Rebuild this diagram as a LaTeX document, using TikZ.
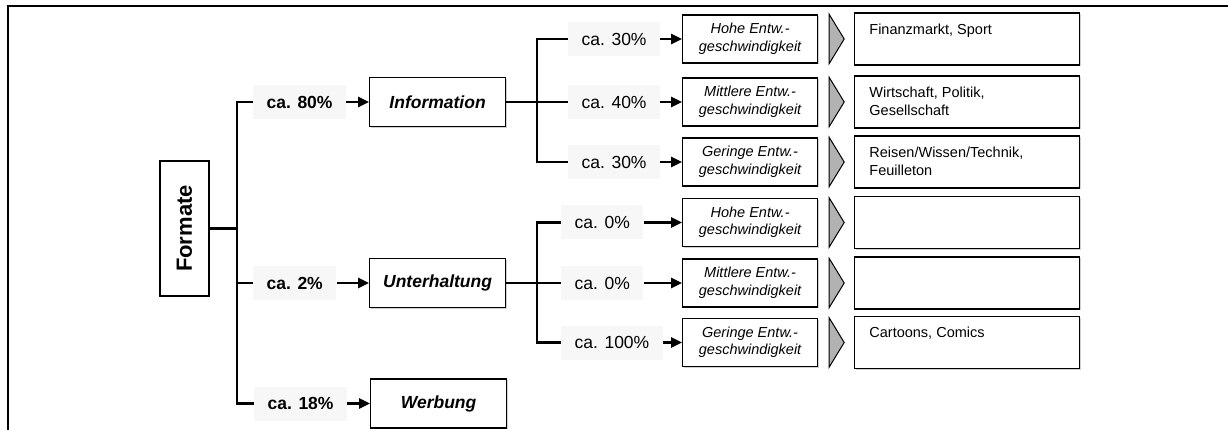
\documentclass[tikz,border=0pt]{standalone}
\usepackage{fontspec}
\setmainfont{Liberation Sans}
\usetikzlibrary{arrows.meta,positioning,shadows}

\begin{document}
\begin{tikzpicture}[x=1pt,y=-1pt,node distance=36pt,>={Triangle[length=11pt,width=10pt]}]
    \tikzset{box/.style={draw,line width=1.2pt,fill=white,
        drop shadow={shadow xshift=1.2pt,shadow yshift=-1.2pt,fill=black!35}},
      conn/.style={line width=2.5pt},
      pctbold/.style={fill=black!3,anchor=west,inner xsep=13.5pt,inner ysep=0pt,minimum height=34pt,
        font=\bfseries\fontsize{17.5}{20}\selectfont},
      pct/.style={pctbold,font=\fontsize{17.5}{20}\selectfont},
      format/.style={box,anchor=west,minimum width=136pt,minimum height=49pt,
        font=\bfseries\itshape\fontsize{17.5}{20}\selectfont},
      speed/.style={box,anchor=west,minimum width=135pt,minimum height=48pt,align=center,
        font=\itshape\fontsize{14.5}{17.5}\selectfont},
      topic/.style={box,minimum width=225pt,minimum height=52pt},
      topictext/.style={anchor=north west,inner sep=0pt,align=left,
        font=\fontsize{14.5}{18}\selectfont},
      chevron/.style={draw,line width=1pt,fill=black!30,line join=miter}}
    \useasboundingbox (0,0) rectangle (1228,430);
    \draw[line width=2.2pt] (1228,6) -- (8,6) -- (8,430);

    \node[box,minimum width=49pt,minimum height=135pt,
      font=\bfseries\fontsize{22}{24}\selectfont] (formate) at (184.5,228.5) {\rotatebox{90}{Formate}};
    \coordinate (fork) at (237,228.5);

    \node[pctbold] (p80) at (253,102) {ca. 80\%};
    \node[pctbold] (p2) at (253,283) {ca. 2\%};
    \node[pctbold] (p18) at (254,403.5) {ca. 18\%};
    \node[format] (info) at (369,102) {Information};
    \node[format] (unt) at (369,283) {Unterhaltung};
    \node[format] (werb) at (370,403.5) {Werbung};

    \node[pct] (a1) at (568,39) {ca. 30\%};
    \node[pct] (a2) at (568,102) {ca. 40\%};
    \node[pct] (a3) at (568,162) {ca. 30\%};
    \node[pct] (b1) at (561,222.5) {ca. 0\%};
    \node[pct] (b2) at (561,283) {ca. 0\%};
    \node[pct] (b3) at (561,342.5) {ca. 100\%};

    \node[speed] (e1) at (682,39) {Hohe Entw.-\\geschwindigkeit};
    \node[speed] (e2) at (682,102) {Mittlere Entw.-\\geschwindigkeit};
    \node[speed] (e3) at (682,162) {Geringe Entw.-\\geschwindigkeit};
    \node[speed] (e4) at (682,222.5) {Hohe Entw.-\\geschwindigkeit};
    \node[speed] (e5) at (682,283) {Mittlere Entw.-\\geschwindigkeit};
    \node[speed] (e6) at (682,342.5) {Geringe Entw.-\\geschwindigkeit};

    \foreach \i in {1,...,6} {
      \node[topic] (r\i) [right = of e\i] {};
      \draw[chevron] ([xshift=11pt]e\i.north east) -- ([xshift=26pt]e\i.east)
        -- ([xshift=11pt]e\i.south east) -- cycle;
    }
    \node[topictext] at ([shift={(15,11)}]r1.north west) {Finanzmarkt, Sport};
    \node[topictext] at ([shift={(15,11)}]r2.north west) {Wirtschaft, Politik,\\Gesellschaft};
    \node[topictext] at ([shift={(15,11)}]r3.north west) {Reisen/Wissen/Technik,\\Feuilleton};
    \node[topictext] at ([shift={(15,11)}]r6.north west) {Cartoons, Comics};

    \draw[conn] (formate.east) -- (fork);
    \draw[conn] (p80.west) -- ++(-16,0) |- (p18.west);
    \draw[conn] (p2.west) -- ++(-16,0);
    \draw[conn] (a1.west) -- ++(-31,0) |- (a3.west);
    \draw[conn] (info.east) -- (a2.west);
    \draw[conn] (b1.west) -- ++(-24,0) |- (b3.west);
    \draw[conn] (unt.east) -- (b2.west);
    \path[conn,->]
    (p80) edge (info)
    (p2) edge (unt)
    (p18) edge (werb)
    (a1) edge (e1)
    (a2) edge (e2)
    (a3) edge (e3)
    (b1) edge (e4)
    (b2) edge (e5)
    (b3) edge (e6)
    ;
\end{tikzpicture}
\end{document}
